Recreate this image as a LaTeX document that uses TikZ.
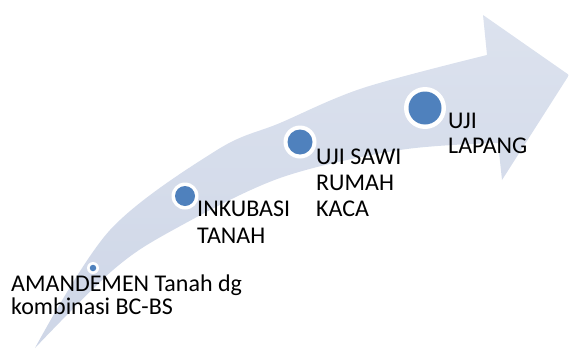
\documentclass[tikz,border=0pt]{standalone}
\usepackage{fontspec}
\setmainfont{Carlito}
\begin{document}
\begin{tikzpicture}[x=1pt,y=-1pt,
  lbl/.style={anchor=base west,inner sep=0pt,font=\fontsize{24}{28}\selectfont,text=black},
  ring/.style={circle,fill=white,inner sep=0pt},
  dot/.style={circle,fill=dotblue,inner sep=0pt}]
\definecolor{dotblue}{HTML}{4F81BD}
\definecolor{arrowA}{HTML}{CED6E7}
\definecolor{arrowB}{HTML}{DCE2EE}
\useasboundingbox (0,0) rectangle (569,348);
% curved arrow
\shade[left color=arrowB,right color=arrowA,shading angle=0]
  plot[smooth,tension=0.55] coordinates {(35,348) (110,230) (217,150) (280,123) (363,88) (487,55)}
  -- (483,15) -- (569,75) -- (502,180) -- (498,143)
  -- plot[smooth,tension=0.55] coordinates {(498,143) (400,150) (280,178) (173,230) (113,270) (35,348)}
  -- cycle;
% markers
\node[ring,minimum size=12pt] (r1) at (93,268) {};
\node[dot,minimum size=6.5pt] (d1) at (r1) {};
\node[ring,minimum size=27pt] (r2) at (185,196) {};
\node[dot,minimum size=20pt] (d2) at (r2) {};
\node[ring,minimum size=33pt] (r3) at (300,142) {};
\node[dot,minimum size=25pt] (d3) at (r3) {};
\node[ring,minimum size=42pt] (r4) at (425,108) {};
\node[dot,minimum size=33pt] (d4) at (r4) {};
% labels
\node[lbl] (t1a) at (11,291) {AMANDEMEN Tanah dg};
\node[lbl] (t1b) at (11,314) {kombinasi BC-BS};
\node[lbl] (t2a) at (197,216) {INKUBASI};
\node[lbl] (t2b) at (197,243) {TANAH};
\node[lbl] (t3a) at (316,164) {UJI SAWI};
\node[lbl] (t3b) at (316,190) {RUMAH};
\node[lbl] (t3c) at (316,216) {KACA};
\node[lbl] (t4a) at (448,128) {UJI};
\node[lbl] (t4b) at (448,153) {LAPANG};
\end{tikzpicture}
\end{document}
